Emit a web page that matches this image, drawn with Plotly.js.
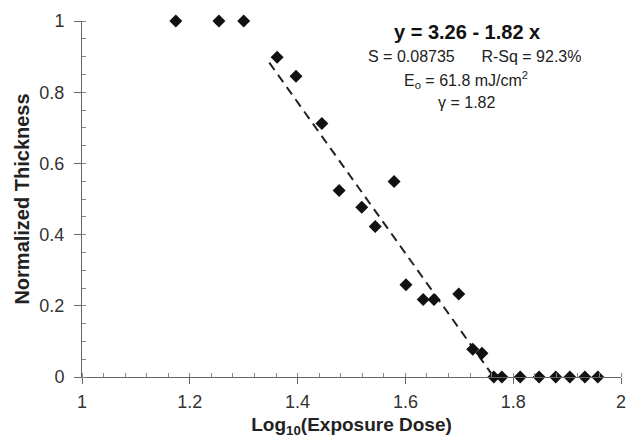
<!DOCTYPE html>
<html>
<head>
<meta charset="utf-8">
<script src="https://cdn.plot.ly/plotly-3.0.1.min.js"></script>
<style>html,body{margin:0;padding:0;background:#fff;}#chart{width:627px;height:438px;}</style>
</head>
<body>
<div id="chart"></div>
<script>
// Data
const logDose = [1.174, 1.254, 1.300, 1.362, 1.397, 1.445, 1.477, 1.519, 1.544, 1.579, 1.601, 1.633, 1.653, 1.699, 1.725, 1.742, 1.764, 1.779, 1.813, 1.848, 1.879, 1.905, 1.933, 1.957];
const thickness = [1, 1, 1, 0.898, 0.845, 0.712, 0.524, 0.477, 0.423, 0.549, 0.259, 0.218, 0.218, 0.233, 0.078, 0.067, 0, 0, 0, 0, 0, 0, 0, 0];
const fitX = [1.3475, 1.764];
const fitY = [0.883, 0];
const xTicks = [1, 1.2, 1.4, 1.6, 1.8, 2];
const xTickText = ['1', '1.2', '1.4', '1.6', '1.8', '2'];
const yTicks = [0, 0.2, 0.4, 0.6, 0.8, 1];
const yTickText = ['0', '0.2', '0.4', '0.6', '0.8', '1'];
const statLines = [
  '<b>y = 3.26 - 1.82 x</b>',
  'S = 0.08735&nbsp;&nbsp;&nbsp;&nbsp;&nbsp;&nbsp;R-Sq = 92.3%',
  'E<sub>o</sub> = 61.8 mJ/cm<sup>2</sup>',
  'γ = 1.82'
];

const font = 'Liberation Sans, Arial, sans-serif';
const axisCol = '#666';

const traces = [
  {
    x: fitX, y: fitY, mode: 'lines', type: 'scatter',
    line: {color: '#222', width: 2, dash: '9px,6px'},
    hoverinfo: 'skip', showlegend: false
  },
  {
    x: logDose, y: thickness, mode: 'markers', type: 'scatter',
    marker: {symbol: 'diamond', size: 10, color: '#111'},
    cliponaxis: false, showlegend: false
  }
];

const layout = {
  width: 627, height: 438,
  margin: {l: 82, r: 6, t: 21, b: 61},
  paper_bgcolor: '#fff', plot_bgcolor: '#fff',
  font: {family: font, color: '#333'},
  showlegend: false,
  xaxis: {
    range: [1, 2], tickvals: xTicks, ticktext: xTickText,
    showgrid: false, zeroline: false, showline: true, linecolor: axisCol, linewidth: 1,
    ticks: 'outside', ticklen: 6, tickcolor: axisCol, tickwidth: 1,
    ticklabelstandoff: 2,
    tickfont: {size: 18, color: '#333', family: font},
    minor: {dtick: 0.04, ticks: 'inside', ticklen: 4, tickcolor: '#888', showgrid: false},
    title: {text: '<b>Log<sub>10</sub>(Exposure Dose)</b>', font: {size: 19, color: '#222', family: font}, standoff: 7}
  },
  yaxis: {
    range: [0, 1], tickvals: yTicks, ticktext: yTickText,
    showgrid: false, zeroline: false, showline: true, linecolor: axisCol, linewidth: 1,
    ticks: 'outside', ticklen: 7, tickcolor: axisCol, tickwidth: 1,
    ticklabelstandoff: 6,
    tickfont: {size: 18, color: '#333', family: font},
    minor: {dtick: 0.05, ticks: 'inside', ticklen: 4, tickcolor: '#888', showgrid: false},
    title: {text: '<b>Normalized Thickness</b>', font: {size: 20, color: '#222', family: font}, standoff: 4}
  },
  annotations: [
    {xref: 'paper', yref: 'paper', x: 0.714, y: 0.969, xanchor: 'center', yanchor: 'middle', showarrow: false,
     text: statLines[0], font: {size: 20, color: '#111', family: font}},
    {xref: 'paper', yref: 'paper', x: 0.729, y: 0.899, xanchor: 'center', yanchor: 'middle', showarrow: false,
     text: statLines[1], font: {size: 16, color: '#222', family: font}},
    {xref: 'paper', yref: 'paper', x: 0.712, y: 0.834, xanchor: 'center', yanchor: 'middle', showarrow: false,
     text: statLines[2], font: {size: 16, color: '#222', family: font}},
    {xref: 'paper', yref: 'paper', x: 0.714, y: 0.77, xanchor: 'center', yanchor: 'middle', showarrow: false,
     text: statLines[3], font: {size: 16, color: '#222', family: font}}
  ]
};

Plotly.newPlot('chart', traces, layout, {displayModeBar: false, staticPlot: true});
</script>
</body>
</html>
